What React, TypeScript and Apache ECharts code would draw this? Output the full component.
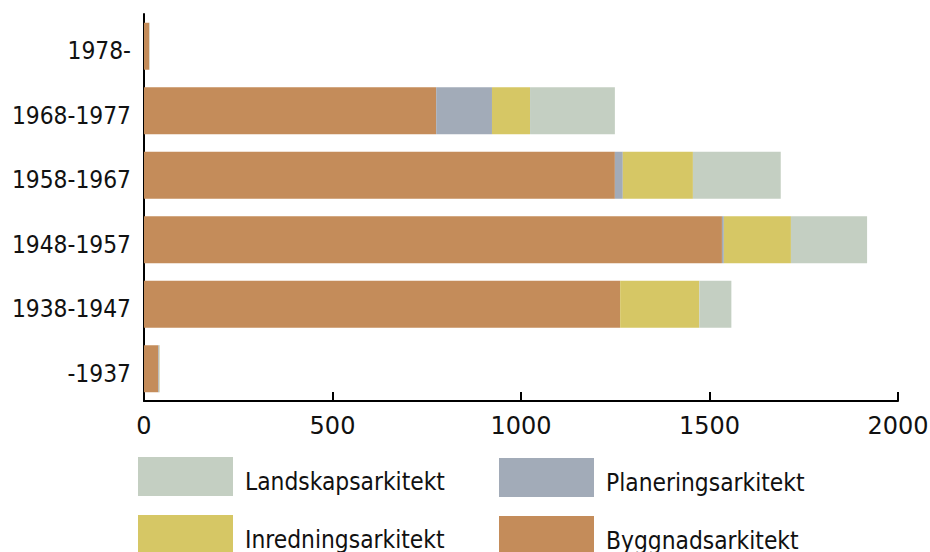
import React, { useEffect, useRef } from "react";
import * as echarts from "echarts";

const categories = ["-1937", "1938-1947", "1948-1957", "1958-1967", "1968-1977", "1978-"];
const byggnad = [38, 1263, 1533, 1249, 775, 14];
const planering = [2, 0, 5, 21, 148, 0];
const inredning = [1, 210, 178, 186, 101, 0];
const landskap = [1, 85, 202, 233, 225, 1];
const xTicks = [0, 500, 1000, 1500, 2000];

const COND = '"DejaVu Sans Condensed", "DejaVu Sans", sans-serif';

export default function App() {
  const ref = useRef<HTMLDivElement>(null);
  useEffect(() => {
    if (!ref.current) return;
    const chart = echarts.init(ref.current, undefined, { renderer: "svg" });
    const mk = (name: string, data: number[], color: string) => ({
      name,
      type: "bar",
      stack: "total",
      data,
      barWidth: 47,
      itemStyle: { color },
      emphasis: { disabled: true },
    });
    const txt = { fontFamily: COND, fontSize: 24.3, color: "#111" };
    const lg = (name: string, left: number, top: number) => ({
      orient: "horizontal",
      left,
      top,
      itemWidth: 95,
      itemHeight: 39,
      icon: "rect",
      data: [name],
      formatter: "{a|{name}}",
      textStyle: { ...txt, rich: { a: { ...txt, padding: [9, 0, 0, 7] } } },
      selectedMode: false,
      padding: 0,
    });
    chart.setOption({
      animation: false,
      grid: { left: 144, right: 32, top: 14, bottom: 151, containLabel: false, outerBoundsMode: "none" },
      xAxis: {
        type: "value",
        min: xTicks[0],
        max: xTicks[xTicks.length - 1],
        interval: 500,
        splitLine: { show: false },
        axisLine: { show: true, lineStyle: { color: "#000", width: 2 } },
        axisTick: { show: true, inside: true, length: 9, lineStyle: { color: "#000", width: 2 } },
        axisLabel: {
          fontFamily: '"DejaVu Sans", sans-serif',
          fontSize: 24,
          color: "#111",
          margin: 13,
          formatter: (v: number) => String(v),
        },
      },
      yAxis: {
        type: "category",
        data: categories,
        axisLine: { show: true, lineStyle: { color: "#000", width: 2 } },
        axisTick: { show: false },
        axisLabel: {
          ...txt,
          margin: 13,
          formatter: (v: string) => `{a|${v}}`,
          rich: { a: { ...txt, padding: [9, 0, 0, 0] } },
        },
      },
      legend: [
        lg("Landskapsarkitekt", 138, 457),
        lg("Inredningsarkitekt", 138, 515),
        lg("Planeringsarkitekt", 499, 458),
        lg("Byggnadsarkitekt", 499, 516),
      ],
      series: [
        mk("Byggnadsarkitekt", byggnad, "#C48C5A"),
        mk("Planeringsarkitekt", planering, "#A2ABB8"),
        mk("Inredningsarkitekt", inredning, "#D6C765"),
        mk("Landskapsarkitekt", landskap, "#C4CFC2"),
      ],
    });
    return () => chart.dispose();
  }, []);
  return <div ref={ref} style={{ width: 930, height: 552, position: "absolute", left: 0, top: 0 }} />;
}
